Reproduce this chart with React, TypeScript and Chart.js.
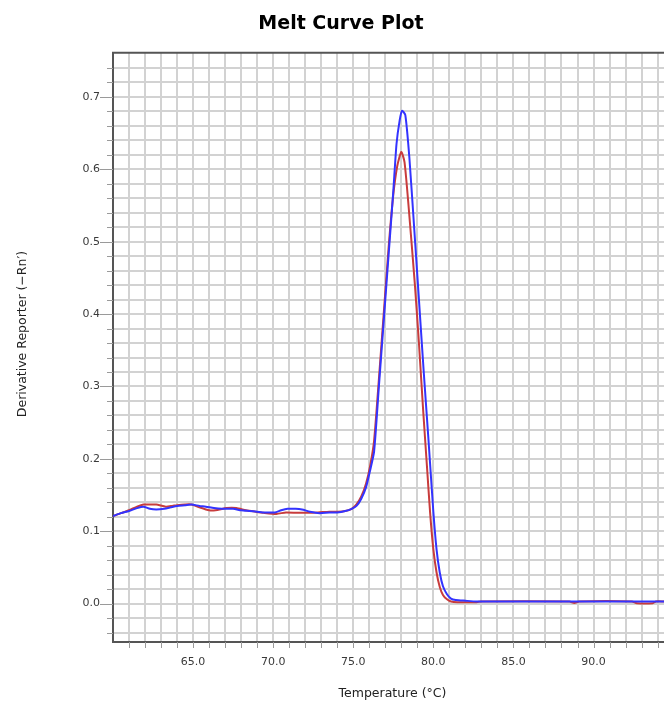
import React, { useEffect, useRef } from "react";
import { Chart, registerables } from "chart.js";

Chart.register(...registerables);

// ---- Text ----
const CHART_TITLE = "Melt Curve Plot";
const X_TITLE = "Temperature (°C)";
const Y_TITLE = "Derivative Reporter (−Rn′)";

// ---- Axis ranges / ticks ----
const X_MIN = 60.0;
const X_MAX = 94.4;
const Y_MIN = -0.053;
const Y_MAX = 0.761;
const X_GRID_FROM = 61;
const X_GRID_TO = 94;
const X_GRID_STEP = 1;
const X_LABEL_EVERY = 5;
const Y_GRID_FROM = -0.04;
const Y_GRID_TO = 0.74;
const Y_GRID_STEP = 0.02;
const Y_LABEL_EVERY = 0.1;

// ---- Series: blue well ----
const blueTemps = [
  60.0, 60.5, 61.0, 61.5, 61.9, 62.3, 62.7, 63.2, 63.6, 64.0, 64.5, 64.9, 65.4, 65.8,
  66.3, 66.8, 67.5, 68.0, 68.5, 69.0, 69.5, 70.1, 70.5, 70.9, 71.4, 71.8, 72.3, 72.9,
  73.5, 74.0, 74.5, 74.9, 75.2, 75.5, 75.8, 76.05, 76.3, 76.6, 76.9, 77.2, 77.5, 77.7,
  77.9, 78.05, 78.25, 78.5, 78.8, 79.1, 79.4, 79.7, 80.0, 80.2, 80.4, 80.6, 80.85, 81.1,
  81.4, 82.0, 82.7, 84.0, 86.0, 88.0, 90.0, 92.0, 94.4,
];
const blueValues = [
  0.121, 0.125, 0.128, 0.132, 0.134, 0.131, 0.13, 0.131, 0.133, 0.135, 0.136, 0.137, 0.135, 0.134,
  0.132, 0.131, 0.131, 0.129, 0.128, 0.127, 0.126, 0.126, 0.129, 0.131, 0.131, 0.13, 0.127, 0.125,
  0.126, 0.126, 0.128, 0.131, 0.135, 0.145, 0.161, 0.184, 0.21, 0.3, 0.39, 0.48, 0.57, 0.635,
  0.668, 0.681, 0.675, 0.617, 0.52, 0.42, 0.32, 0.225, 0.127, 0.075, 0.043, 0.024, 0.013, 0.007,
  0.005, 0.004, 0.003, 0.003, 0.003, 0.003, 0.003, 0.003, 0.003,
];

// ---- Series: red well ----
const redTemps = [
  60.0, 60.5, 61.0, 61.5, 61.9, 62.3, 62.7, 63.3, 63.7, 64.0, 64.5, 64.9, 65.4, 66.0,
  66.4, 67.1, 67.7, 68.3, 68.9, 69.4, 70.2, 70.8, 71.5, 72.1, 72.8, 73.5, 74.0, 74.5,
  74.9, 75.2, 75.5, 75.8, 76.05, 76.3, 76.6, 76.9, 77.2, 77.5, 77.75, 78.0, 78.2, 78.45,
  78.85, 79.1, 79.37, 79.6, 79.8, 80.0, 80.2, 80.4, 80.6, 80.85, 81.1, 81.5, 82.7, 83.0,
  88.5, 88.8, 89.1, 92.4, 92.7, 93.7, 93.9, 94.4,
];
const redValues = [
  0.121, 0.125, 0.129, 0.134, 0.137, 0.137, 0.137, 0.134, 0.135, 0.136, 0.137, 0.137, 0.133, 0.129,
  0.129, 0.132, 0.132, 0.129, 0.127, 0.1255, 0.124, 0.126, 0.1255, 0.1255, 0.126, 0.127, 0.127, 0.128,
  0.131, 0.137, 0.148, 0.166, 0.19, 0.225, 0.31, 0.4, 0.49, 0.565, 0.605, 0.624, 0.61, 0.55,
  0.44, 0.36, 0.265, 0.19, 0.125, 0.075, 0.043, 0.023, 0.012, 0.006, 0.003, 0.002, 0.002, 0.003,
  0.003, 0.001, 0.003, 0.003, 0.0007, 0.0007, 0.003, 0.003,
];

const BLUE = "#3333ff";
const RED = "#c83c3c";
const AXIS_TITLE_FONT = "12.5px 'DejaVu Sans'";

const toPoints = (xs: number[], ys: number[]) => xs.map((x, i) => ({ x, y: ys[i] }));

const isMultiple = (v: number, step: number) => {
  const r = v / step;
  return Math.abs(r - Math.round(r)) < 1e-6;
};

const framePlugin = {
  id: "frameTicks",
  afterDraw(chart: any) {
    const { ctx, chartArea: a, scales } = chart;
    ctx.save();
    ctx.strokeStyle = "#9a9a9a";
    ctx.lineWidth = 1;
    scales.y.ticks.forEach((t: any) => {
      const y = Math.round(scales.y.getPixelForValue(t.value)) + 0.5;
      const len = isMultiple(t.value, Y_LABEL_EVERY) ? 13 : 6;
      ctx.beginPath();
      ctx.moveTo(a.left - len, y);
      ctx.lineTo(a.left, y);
      ctx.stroke();
    });
    scales.x.ticks.forEach((t: any) => {
      const x = Math.round(scales.x.getPixelForValue(t.value)) + 0.5;
      ctx.beginPath();
      ctx.moveTo(x, a.bottom);
      ctx.lineTo(x, a.bottom + 6);
      ctx.stroke();
    });
    ctx.strokeStyle = "#555555";
    ctx.lineWidth = 2;
    ctx.beginPath();
    ctx.moveTo(a.left - 1, a.top);
    ctx.lineTo(a.right + 2, a.top);
    ctx.stroke();

    // axis titles
    ctx.fillStyle = "#222222";
    ctx.font = AXIS_TITLE_FONT;
    ctx.textAlign = "center";
    ctx.textBaseline = "middle";
    ctx.fillText(X_TITLE, 392.5, 694);
    ctx.translate(23, 334);
    ctx.rotate(-Math.PI / 2);
    ctx.fillText(Y_TITLE, 0, 0);
    ctx.restore();
  },
};

export default function App() {
  const ref = useRef<HTMLCanvasElement | null>(null);

  useEffect(() => {
    if (!ref.current) return;
    const tickFont = { family: "DejaVu Sans", size: 11 };
    const chart = new Chart(ref.current, {
      type: "line",
      data: {
        datasets: [
          {
            label: "Well B",
            data: toPoints(blueTemps, blueValues),
            borderColor: BLUE,
            backgroundColor: BLUE,
            borderWidth: 2,
            pointRadius: 0,
            tension: 0.2,
            fill: false,
          },
          {
            label: "Well A",
            data: toPoints(redTemps, redValues),
            borderColor: RED,
            backgroundColor: RED,
            borderWidth: 2,
            pointRadius: 0,
            tension: 0.2,
            fill: false,
          },
        ],
      },
      options: {
        responsive: false,
        animation: false,
        devicePixelRatio: 1,
        layout: { padding: { left: 18, right: 0, top: 0, bottom: 0 } },
        plugins: {
          legend: { display: false },
          tooltip: { enabled: false },
          title: {
            display: true,
            text: CHART_TITLE,
            color: "#000",
            font: { family: "DejaVu Sans", size: 19, weight: "bold" },
            padding: { top: 13, bottom: 17 },
          },
        },
        scales: {
          x: {
            type: "linear",
            min: X_MIN,
            max: X_MAX,
            afterBuildTicks: (scale: any) => {
              const ticks = [];
              for (let v = X_GRID_FROM; v <= X_GRID_TO + 1e-9; v += X_GRID_STEP) ticks.push({ value: v });
              scale.ticks = ticks;
            },
            afterFit: (scale: any) => {
              scale.height = 62;
              scale.paddingLeft = 0;
              scale.paddingRight = 0;
            },
            ticks: {
              autoSkip: false,
              maxRotation: 0,
              padding: 14,
              color: "#3a3a3a",
              font: tickFont,
              callback: (v: any) => (isMultiple(Number(v), X_LABEL_EVERY) ? Number(v).toFixed(1) : ""),
            },
            grid: { color: "#d2d2d2", lineWidth: 2, drawTicks: false },
            border: { display: true, color: "#555555", width: 2 },
          },
          y: {
            type: "linear",
            min: Y_MIN,
            max: Y_MAX,
            afterBuildTicks: (scale: any) => {
              const ticks = [];
              const n = Math.round((Y_GRID_TO - Y_GRID_FROM) / Y_GRID_STEP);
              for (let i = 0; i <= n; i++) ticks.push({ value: Math.round((Y_GRID_FROM + i * Y_GRID_STEP) * 1000) / 1000 });
              scale.ticks = ticks;
            },
            afterFit: (scale: any) => {
              scale.width = 95;
              scale.paddingTop = 0;
              scale.paddingBottom = 0;
            },
            ticks: {
              autoSkip: false,
              padding: 13,
              color: "#3a3a3a",
              font: tickFont,
              callback: (v: any) => (isMultiple(Number(v), Y_LABEL_EVERY) ? Number(v).toFixed(1) : ""),
            },
            grid: { color: "#d2d2d2", lineWidth: 2, drawTicks: false },
            border: { display: true, color: "#555555", width: 2 },
          },
        },
      },
      plugins: [framePlugin],
    } as any);
    return () => chart.destroy();
  }, []);

  return (
    <div style={{ position: "fixed", left: 0, top: 0, width: 664, height: 704, background: "#fff" }}>
      <canvas ref={ref} width={664} height={704} style={{ display: "block" }} />
    </div>
  );
}
